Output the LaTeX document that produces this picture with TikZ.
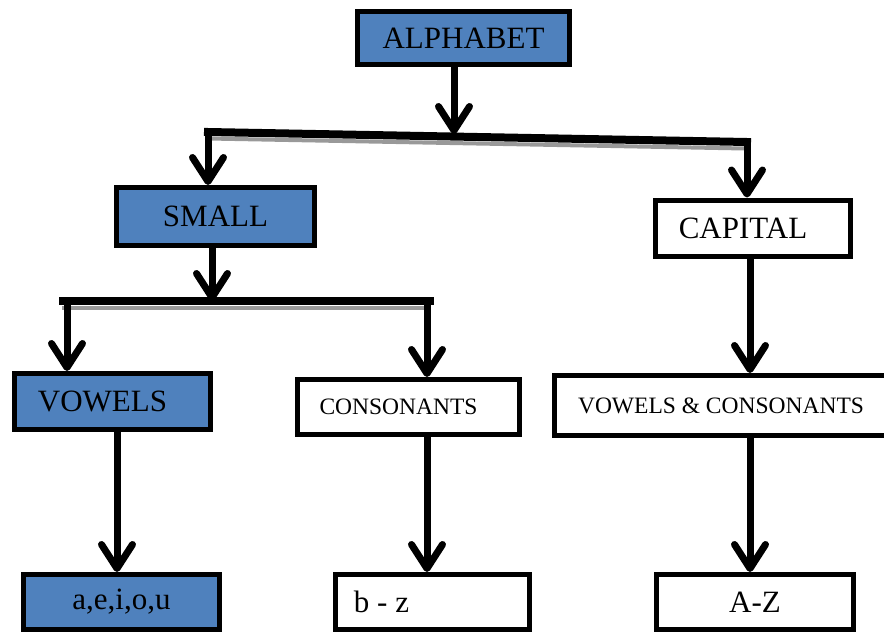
\documentclass[tikz,border=0pt]{standalone}
\usepackage{fontspec}
\setmainfont{Liberation Serif}
\usetikzlibrary{arrows.meta}
\definecolor{boxblue}{HTML}{4F81BD}
\newcommand{\bigtxt}{\fontsize{31}{36}\selectfont}
\newcommand{\smalltxt}{\fontsize{23.5}{28}\selectfont}
\newcommand{\padr}[1]{\rule{#1}{0pt}}
\tikzset{
  box/.style={draw=black, line width=5pt, rectangle, inner sep=0pt, font=\bigtxt},
  bluebox/.style={box, fill=boxblue},
  whitebox/.style={box, fill=white},
  arrow/.style={line width=7pt, -{Straight Barb[length=24pt,width=31pt,round]}},
  bar/.style={line width=8pt, line cap=rect},
  barshadow/.style={line width=4pt, draw=black!40},
}
\begin{document}
\begin{tikzpicture}[x=1pt, y=-1pt]
\useasboundingbox (0,0) rectangle (884,632);

% boxes
\node[bluebox, minimum width=212pt, minimum height=53pt] (alpha) at (463.5,38) {ALPHABET};
\node[bluebox, minimum width=198pt, minimum height=58pt] (small) at (215.5,216.5) {SMALL};
\node[whitebox, minimum width=195pt, minimum height=56pt] (capital) at (753,228) {CAPITAL\padr{20pt}};
\node[bluebox, minimum width=196pt, minimum height=56pt] (vowels) at (112.5,401.5) {VOWELS\padr{20pt}};
\node[whitebox, minimum width=222pt, minimum height=55pt, font=\smalltxt] (cons) at (408.5,407) {CONSONANTS\padr{20pt}};
\node[whitebox, minimum width=333pt, minimum height=60pt, font=\smalltxt] (vc) at (721,405.5) {VOWELS \& CONSONANTS};
\node[bluebox, minimum width=196pt, minimum height=55pt] (aeiou) at (121.5,602) {a,e,i,o,u};
\node[whitebox, minimum width=194pt, minimum height=55pt] (bz) at (432.5,602) {b - z\padr{102pt}};
\node[whitebox, minimum width=197pt, minimum height=55pt] (az) at (755,602) {A-Z};

% branching bars
\coordinate (b1l) at (208,132);
\coordinate (b1r) at (747,142);
\coordinate (b1m) at (454,134);
\coordinate (b2l) at (67,301);
\coordinate (b2r) at (427,301);
\coordinate (b2m) at (212,301);

% soft grey shadow beneath each bar
\draw[barshadow] ([yshift=-6.5pt]b1l) -- ([xshift=-2pt,yshift=-6.5pt]b1r);
\draw[barshadow] ([xshift=-5pt,yshift=-6.5pt]b2l) -- ([yshift=-6.5pt]b2r);
\draw[bar] (b1l) -- (b1r);
\draw[bar] ([xshift=-4pt]b2l) -- ([xshift=3pt]b2r);

% arrows
\draw[arrow] (alpha.south -| b1m) -- (b1m);
\draw[arrow] (b1l) -- (small.north -| b1l);
\draw[arrow] (b1r) -- (capital.north -| b1r);
\draw[arrow] (small.south -| b2m) -- (b2m);
\draw[arrow] (b2l) -- (vowels.north -| b2l);
\draw[arrow] (b2r) -- (cons.north -| b2r);
\draw[arrow] (vowels.south -| 117,0) -- (aeiou.north -| 117,0);
\draw[arrow] (cons.south -| 427,0) -- (bz.north -| 427,0);
\draw[arrow] (capital.south -| 750,0) -- (vc.north -| 750,0);
\draw[arrow] (vc.south -| 750,0) -- (az.north -| 750,0);
\end{tikzpicture}
\end{document}
